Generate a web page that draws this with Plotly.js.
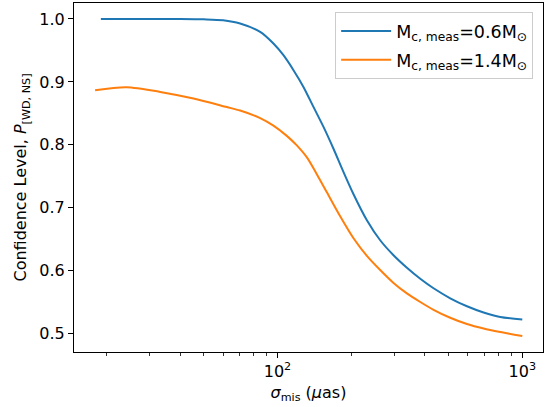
<!DOCTYPE html>
<html>
<head>
<meta charset="utf-8">
<script src="https://cdn.plot.ly/plotly-3.0.1.min.js"></script>
<style>html,body{margin:0;padding:0;background:#fff;}</style>
</head>
<body>
<div id="chart" style="width:547px;height:407px;"></div>
<script>
// sigma_mis (µas) and confidence level for each series
const xBlue = [19.0, 30, 40, 50, 60, 70.4, 85.0, 96.3, 105.8, 116.3, 127.7, 140.3, 154.2, 169.4, 186.0, 204.5, 231.9, 262.8, 297.9, 337.9, 383.1, 434.1, 507.9, 594.3, 695, 813, 1000];
const yBlue = [1.000, 1.000, 1.000, 0.9995, 0.998, 0.9928, 0.9795, 0.9610, 0.9424, 0.9186, 0.8920, 0.8603, 0.8285, 0.7938, 0.7570, 0.7215, 0.6801, 0.6483, 0.6245, 0.6046, 0.5871, 0.5720, 0.5561, 0.5434, 0.5335, 0.5263, 0.5223];
const xOrange = [18.0, 24.2, 33.2, 45.4, 62.1, 70.4, 85.0, 96.3, 109.2, 120.0, 131.9, 145.0, 159.2, 180.4, 204.5, 231.9, 262.8, 297.9, 337.9, 383.1, 434.1, 507.9, 594.3, 695, 813, 1000];
const yOrange = [0.8869, 0.8916, 0.8841, 0.8736, 0.8600, 0.8545, 0.8425, 0.8305, 0.8142, 0.7990, 0.7800, 0.7530, 0.7245, 0.6865, 0.6515, 0.6235, 0.6010, 0.5805, 0.5638, 0.5502, 0.5378, 0.5251, 0.5151, 0.5079, 0.5024, 0.4960];
const nameBlue = "M<sub>c, meas</sub>=0.6M<sub>⊙</sub>";
const nameOrange = "M<sub>c, meas</sub>=1.4M<sub>⊙</sub>";
const xTickVals = [100, 1000];
const xTickText = ["10<sup>2</sup>", "10<sup>3</sup>"];
const xMinorVals = [20, 30, 40, 50, 60, 70, 80, 90, 200, 300, 400, 500, 600, 700, 800, 900];
const yTickVals = [0.5, 0.6, 0.7, 0.8, 0.9, 1.0];
const yTickText = ["0.5", "0.6", "0.7", "0.8", "0.9", "1.0"];
const xTitle = "<i>σ</i><sub>mis</sub> (<i>μ</i>as)";
const yTitle = "Confidence Level, <i>P</i><sub>[WD, NS]</sub>";

const font = {family: "DejaVu Sans, sans-serif", size: 16, color: "#000"};

const data = [
  {x: xBlue, y: yBlue, name: nameBlue, legendgroup: "a", type: "scatter", mode: "lines",
   line: {color: "#1f77b4", width: 2, shape: "spline", smoothing: 0.8}},
  {x: xOrange, y: yOrange, name: nameOrange, legendgroup: "b", type: "scatter", mode: "lines",
   line: {color: "#ff7f0e", width: 2, shape: "spline", smoothing: 0.8}}
];

const layout = {
  width: 547, height: 407,
  margin: {l: 74, r: 4, t: 3, b: 55},
  paper_bgcolor: "#fff", plot_bgcolor: "#fff",
  font: font,
  showlegend: true,
  legend: {
    x: 0.979, xanchor: "right", y: 0.974, yanchor: "top",
    bgcolor: "rgba(255,255,255,0.8)", bordercolor: "#cccccc", borderwidth: 1,
    font: {family: "DejaVu Sans, sans-serif", size: 17.5, color: "#000"},
    tracegroupgap: 3, itemwidth: 50
  },
  xaxis: {
    type: "log",
    range: [Math.log10(14.76), Math.log10(1215)],
    tickvals: xTickVals, ticktext: xTickText,
    ticks: "outside", ticklen: 5, tickwidth: 1, tickcolor: "#000",
    minor: {tickvals: xMinorVals, ticks: "outside", ticklen: 2.5, tickwidth: 0.8, tickcolor: "#000", showgrid: false},
    showline: true, linecolor: "#000", linewidth: 1, mirror: true,
    showgrid: false, zeroline: false,
    tickfont: font,
    title: {text: xTitle, font: font, standoff: 6}
  },
  yaxis: {
    range: [0.4707, 1.0254],
    tickvals: yTickVals, ticktext: yTickText,
    ticks: "outside", ticklen: 5, tickwidth: 1, tickcolor: "#000",
    showline: true, linecolor: "#000", linewidth: 1, mirror: true,
    showgrid: false, zeroline: false,
    tickfont: font,
    title: {text: yTitle, font: font, standoff: 8}
  }
};

Plotly.newPlot("chart", data, layout, {displayModeBar: false, staticPlot: true});
</script>
</body>
</html>
